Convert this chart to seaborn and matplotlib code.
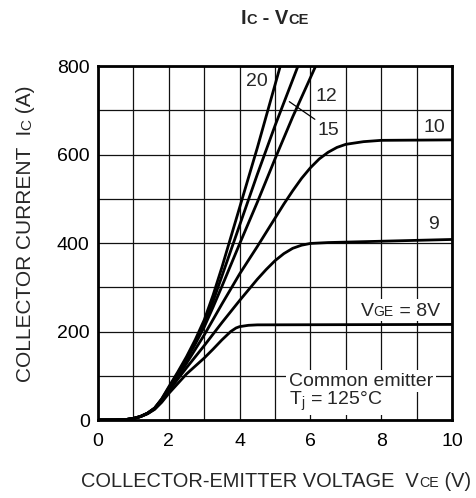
import numpy as np
import pandas as pd
import matplotlib
matplotlib.use("Agg")
import matplotlib.pyplot as plt
import matplotlib.transforms as mtransforms
from matplotlib.patches import Rectangle
import seaborn as sns

# ---------------- data ----------------
vge_levels = ["20", "15", "12", "10", "9", "8"]

vce_20 = [0, 0.5, 0.8, 1.0, 1.2, 1.4, 1.6, 1.8, 2.0, 2.25, 2.5, 2.75, 3.0, 3.25, 3.5, 4.0, 4.5, 5.15]
ic_20 = [0, 0.2, 1.2, 3.5, 8, 15.5, 27, 48, 75, 108, 143, 182, 226, 282, 345, 480, 615, 800]

vce_15 = [0, 0.5, 0.8, 1.0, 1.2, 1.4, 1.6, 1.8, 2.0, 2.25, 2.5, 2.75, 3.0, 3.25, 3.5, 4.0, 4.5, 5.0, 5.65]
ic_15 = [0, 0.2, 1.2, 3.5, 8, 15.5, 27, 47, 73, 105, 139, 176, 217, 268, 325, 440, 555, 665, 800]

vce_12 = [0, 0.5, 0.8, 1.0, 1.2, 1.4, 1.6, 1.8, 2.0, 2.25, 2.5, 2.75, 3.0, 3.25, 3.5, 4.0, 4.5, 5.0, 5.5, 6.15]
ic_12 = [0, 0.2, 1.2, 3.5, 8, 15.5, 26.5, 46, 71, 102, 136, 172, 210, 255, 302, 398, 492, 590, 685, 800]

vce_10 = [0, 0.5, 0.8, 1.0, 1.2, 1.4, 1.6, 1.8, 2.0, 2.25, 2.5, 2.75, 3.0, 3.5, 4.0, 4.5, 5.0,
          5.25, 5.5, 5.75, 6.0, 6.25, 6.5, 6.75, 7.0, 7.5, 8.0, 10.0]
ic_10 = [0, 0.2, 1.2, 3.5, 8, 15, 26, 44, 68, 97, 128, 160, 192, 262, 330, 392, 456,
         488, 518, 546, 570, 590, 605, 616, 623, 629, 632, 633]

vce_9 = [0, 0.5, 0.8, 1.0, 1.2, 1.4, 1.6, 1.8, 2.0, 2.25, 2.5, 2.75, 3.0, 3.5, 4.0, 4.5, 4.75,
         5.0, 5.25, 5.5, 5.75, 6.0, 6.5, 7.0, 8.0, 9.0, 10.0]
ic_9 = [0, 0.2, 1.2, 3.4, 7.8, 14.5, 25, 42, 65, 92, 118, 143, 168, 220, 270, 318, 340,
        360, 376, 388, 395, 399, 401, 402, 404, 406, 408]

vce_8 = [0, 0.5, 0.8, 1.0, 1.2, 1.4, 1.6, 1.8, 2.0, 2.25, 2.5, 2.75, 3.0, 3.25, 3.5, 3.75,
         3.9, 4.0, 4.25, 4.5, 10.0]
ic_8 = [0, 0.2, 1.1, 3.2, 7.5, 14, 24, 40, 60, 82, 104, 122, 140, 160, 181, 200,
        208, 211, 214, 215, 216]

x_ticks = [0, 2, 4, 6, 8, 10]
y_ticks = [0, 200, 400, 600, 800]

curves = {"20": (vce_20, ic_20), "15": (vce_15, ic_15), "12": (vce_12, ic_12),
          "10": (vce_10, ic_10), "9": (vce_9, ic_9), "8": (vce_8, ic_8)}
frames = []
for k in vge_levels:
    v, i = curves[k]
    frames.append(pd.DataFrame({"vce": v, "ic": i, "vge": k, "order": range(len(v))}))
df = pd.concat(frames, ignore_index=True)

# ---------------- styling ----------------
sns.set_theme(style="white")
FONT = ["Liberation Sans", "DejaVu Sans"]
plt.rcParams["font.family"] = FONT
plt.rcParams["mathtext.fontset"] = "custom"
plt.rcParams["mathtext.rm"] = "Liberation Sans"
plt.rcParams["mathtext.default"] = "regular"

W, H = 476, 498
fig = plt.figure(figsize=(W / 100, H / 100), dpi=100)
L, R, T, B = 98, 452, 66, 420
ax = fig.add_axes([L / W, 1 - B / H, (R - L) / W, (B - T) / H])

sns.lineplot(data=df, x="vce", y="ic", units="vge", estimator=None, sort=False,
             color="black", linewidth=2.0, ax=ax, legend=False, zorder=3)

ax.set_xlim(0, 10)
ax.set_ylim(0, 800)
ax.set_xticks(x_ticks)
ax.set_yticks(y_ticks)
ax.set_xticks(np.arange(1, 10, 2), minor=True)
ax.set_yticks(np.arange(100, 800, 200), minor=True)
ax.grid(which="both", color="#111111", linewidth=0.9, zorder=1)
ax.tick_params(which="both", length=0, labelsize=14, colors="black")
ax.tick_params(axis="x", pad=9)
ax.tick_params(axis="y", pad=6)
ax.set_xlabel("")
ax.set_ylabel("")
for s in ax.spines.values():
    s.set_color("black")
    s.set_linewidth(2.0)
    s.set_visible(True)

fig.canvas.draw()
renderer = fig.canvas.get_renderer()


def text_width(s, size, weight):
    t1 = fig.text(0, 0, "x" + s + "x", fontsize=size, fontweight=weight)
    t2 = fig.text(0, 0, "xx", fontsize=size, fontweight=weight)
    w = t1.get_window_extent(renderer).width - t2.get_window_extent(renderer).width
    t1.remove()
    t2.remove()
    return w


def rich(x, y, pieces, ha="center", rotation=0, weight="normal", box=False):
    """x, y: display px (origin bottom-left), baseline reference."""
    widths = [text_width(s, sz, weight) for s, sz in pieces]
    total = sum(widths)
    if ha == "center":
        start = -total / 2
    elif ha == "right":
        start = -total
    else:
        start = 0
    pos = start
    for (s, sz), w in zip(pieces, widths):
        if rotation == 90:
            px, py = x, y + pos
        else:
            px, py = x + pos, y
        fig.text(px, py, s, fontsize=sz, fontweight=weight,
                 transform=mtransforms.IdentityTransform(),
                 ha="left", va="baseline", rotation=rotation,
                 rotation_mode="anchor", zorder=5)
        pos += w
    if box:
        fig.patches.append(Rectangle((x + start - 3, y - 5), total + 6, 22,
                                     transform=mtransforms.IdentityTransform(),
                                     facecolor="white", edgecolor="none", zorder=2))


# title
rich(275, H - 24, [("I", 14.5), ("C", 10.5), (" - V", 14.5), ("CE", 10.5)], weight="bold")
# x label
rich(276, H - 487, [("COLLECTOR-EMITTER VOLTAGE  V", 14.4), ("CE", 10.3), (" (V)", 14.4)])
# y label
rich(31, H - 234, [("COLLECTOR CURRENT  I", 15), ("C", 11), (" (A)", 15)], rotation=90)
# VGE label
rich(440, H - 316, [("V", 14), ("GE", 10), (" = 8V", 14)], ha="right", box=True)

# curve labels
for lab, xv, yv in [("20", 4.5, 764), ("12", 6.44, 731), ("15", 6.5, 655),
                    ("10", 9.49, 660), ("9", 9.49, 441)]:
    ax.text(xv, yv, lab, fontsize=14, ha="center", va="center", zorder=4)
ax.annotate("", xy=(5.34, 723), xytext=(6.19, 676),
            arrowprops=dict(arrowstyle="-", color="black", lw=0.9), zorder=4)

ax.text(5.40, 88, "Common emitter", fontsize=14, ha="left", va="center", zorder=4,
        bbox=dict(boxstyle="square,pad=0.15", facecolor="white", edgecolor="none"))
ax.text(5.40, 42, r"T$_{j}$ = 125°C", fontsize=14, ha="left", va="center", zorder=4,
        bbox=dict(boxstyle="square,pad=0.12", facecolor="white", edgecolor="none"))

fig.savefig("out.png", dpi=100)
